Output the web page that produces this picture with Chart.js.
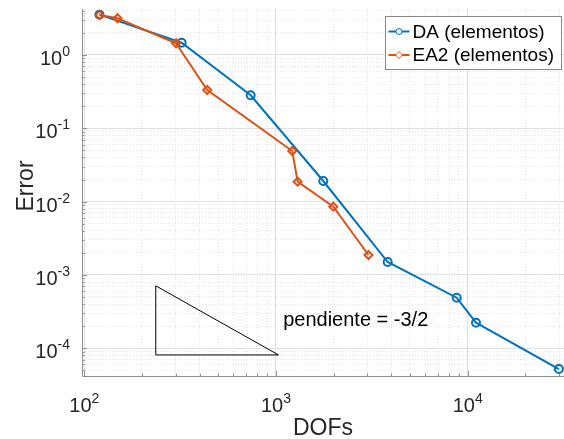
<!DOCTYPE html>
<html>
<head>
<meta charset="utf-8">
<script src="https://cdn.jsdelivr.net/npm/chart.js@4/dist/chart.umd.min.js"></script>
<style>
  html, body { margin: 0; padding: 0; background: #fff; }
  #wrap { width: 564px; height: 439px; }
</style>
</head>
<body>
<div id="wrap"><canvas id="chart" width="564" height="439"></canvas></div>
<script>
"use strict";

// values
const daDofs = [120, 322, 738, 1765, 3825, 8762, 11050, 29900];
const daError = [3.55, 1.47, 0.282, 0.0191, 0.0015, 4.89e-4, 2.23e-4, 5.2e-5];
const ea2Dofs = [120, 149, 301, 438, 1216, 1297, 1991, 3038];
const ea2Error = [3.51, 3.17, 1.445, 0.333, 0.049, 0.0187, 0.00852, 0.00187];
const triDofs = [236, 1030, 236, 236];
const triError = [7.1e-4, 8.1e-5, 8.1e-5, 7.1e-4];
const seriesLabels = ["DA (elementos)", "EA2 (elementos)"];
const xTitle = "DOFs";
const yTitle = "Error";
const slopeNote = "pendiente = -3/2";
const slopeNoteAt = [1090, 2.0e-4];
const xRange = [97.3, 31800];
const yRange = [4.18e-5, 4.24];

const FONT = '"Liberation Sans", Arial, Helvetica, sans-serif';
const COLORS = { da: "#0072BD", ea2: "#D95319", text: "#262626", axis: "#8f8f8f", major: "#e0e0e0", minor: "#e4e4e4" };

const pts = (xs, ys) => xs.map((x, i) => ({ x, y: ys[i] }));

function logTicks(min, max) {
  const out = [];
  for (let e = Math.floor(Math.log10(min)); e <= Math.ceil(Math.log10(max)); e++) {
    for (let k = 1; k <= 9; k++) {
      const v = k * Math.pow(10, e);
      if (v >= min && v <= max) out.push({ value: v, major: k === 1 });
    }
  }
  return out;
}

function drawPower(ctx, v, x, base, align) {
  const main = "10";
  const sup = String(Math.round(Math.log10(v)));
  ctx.font = `20px ${FONT}`;
  const mw = ctx.measureText(main).width;
  ctx.font = `14px ${FONT}`;
  const sw = ctx.measureText(sup).width;
  const left = align === "right" ? x - mw - sw : x - (mw + sw) / 2;
  ctx.textAlign = "left";
  ctx.textBaseline = "alphabetic";
  ctx.font = `20px ${FONT}`;
  ctx.fillText(main, left, base);
  ctx.font = `14px ${FONT}`;
  ctx.fillText(sup, left + mw, base - 9);
}

const matlabAxes = {
  id: "matlabAxes",
  beforeDatasetsDraw(chart) {
    const { ctx, chartArea: a, scales: { x, y } } = chart;
    ctx.save();
    ctx.strokeStyle = COLORS.axis;
    ctx.lineWidth = 1;
    ctx.beginPath();
    ctx.moveTo(a.left + 0.5, a.top);
    ctx.lineTo(a.left + 0.5, a.bottom + 0.5);
    ctx.lineTo(a.right, a.bottom + 0.5);
    for (const t of x.ticks) {
      const px = Math.round(x.getPixelForValue(t.value)) + 0.5;
      ctx.moveTo(px, a.bottom);
      ctx.lineTo(px, a.bottom - (t.major ? 5 : 2.5));
    }
    for (const t of y.ticks) {
      const py = Math.round(y.getPixelForValue(t.value)) + 0.5;
      ctx.moveTo(a.left, py);
      ctx.lineTo(a.left + (t.major ? 5 : 2.5), py);
    }
    ctx.stroke();
    ctx.restore();
  },
  afterDatasetsDraw(chart) {
    const { ctx, chartArea: a, scales: { x, y } } = chart;
    ctx.save();
    ctx.fillStyle = COLORS.text;
    x.ticks.filter(t => t.major).forEach(t => drawPower(ctx, t.value, x.getPixelForValue(t.value), a.bottom + 36, "center"));
    y.ticks.filter(t => t.major).forEach(t => drawPower(ctx, t.value, a.left - 12, y.getPixelForValue(t.value) + 10, "right"));

    // axis titles
    ctx.font = `23px ${FONT}`;
    ctx.textAlign = "center";
    ctx.textBaseline = "alphabetic";
    ctx.fillText(xTitle, (a.left + a.right) / 2, a.bottom + 59);
    ctx.save();
    ctx.translate(a.left - 49, 186);
    ctx.rotate(-Math.PI / 2);
    ctx.fillText(yTitle, 0, 0);
    ctx.restore();

    // slope note
    ctx.fillStyle = "#000";
    ctx.font = `20px ${FONT}`;
    ctx.textAlign = "left";
    ctx.fillText(slopeNote, x.getPixelForValue(slopeNoteAt[0]), y.getPixelForValue(slopeNoteAt[1]));

    // legend box
    const bx = 385.5, by = 16.5, bw = 176, bh = 53;
    ctx.fillStyle = "#fff";
    ctx.fillRect(bx, by, bw, bh);
    ctx.strokeStyle = "#888";
    ctx.lineWidth = 1;
    ctx.strokeRect(bx, by, bw, bh);
    chart.data.datasets.slice(0, 2).forEach((ds, i) => {
      const ry = by + 15 + i * 23.5;
      ctx.strokeStyle = ds.borderColor;
      ctx.lineWidth = 2;
      ctx.beginPath();
      ctx.moveTo(bx + 3, ry);
      ctx.lineTo(bx + 24, ry);
      ctx.stroke();
      ctx.lineWidth = 1;
      ctx.fillStyle = "#fff";
      ctx.beginPath();
      if (ds.pointStyle === "circle") {
        ctx.arc(bx + 13.5, ry, 3, 0, Math.PI * 2);
      } else {
        ctx.moveTo(bx + 13.5, ry - 3.5);
        ctx.lineTo(bx + 17, ry);
        ctx.lineTo(bx + 13.5, ry + 3.5);
        ctx.lineTo(bx + 10, ry);
        ctx.closePath();
      }
      ctx.fill();
      ctx.stroke();
      ctx.fillStyle = "#000";
      ctx.font = `19px ${FONT}`;
      ctx.textBaseline = "middle";
      ctx.fillText(ds.label, bx + 27, ry + 1);
    });
    ctx.restore();
  },
};

const gridAxis = (range, horizontal) => ({
  type: "logarithmic",
  min: range[0],
  max: range[1],
  afterBuildTicks: (s) => { s.ticks = logTicks(s.min, s.max); },
  afterFit: (s) => { if (horizontal) s.height = 0; else s.width = 0; },
  ticks: { display: false, autoSkip: false },
  grid: {
    drawTicks: false,
    lineWidth: 1,
    color: (c) => (c.tick && c.tick.major ? COLORS.major : COLORS.minor),
  },
  border: { display: false, dash: (c) => (c.tick && !c.tick.major ? [1, 2] : []) },
  title: { display: false },
});

new Chart(document.getElementById("chart"), {
  type: "line",
  data: {
    datasets: [
      {
        label: seriesLabels[0], data: pts(daDofs, daError), order: 2,
        borderColor: COLORS.da, borderWidth: 2, pointStyle: "circle", pointRadius: 4,
        pointBorderWidth: 2, pointBackgroundColor: "rgba(0,0,0,0)", pointBorderColor: COLORS.da, clip: false,
      },
      {
        label: seriesLabels[1], data: pts(ea2Dofs, ea2Error), order: 1,
        borderColor: COLORS.ea2, borderWidth: 2, pointStyle: "rectRot", pointRadius: 4,
        pointBorderWidth: 2, pointBackgroundColor: "rgba(0,0,0,0)", pointBorderColor: COLORS.ea2, clip: false,
      },
      {
        label: "triangle", data: pts(triDofs, triError), order: 3,
        borderColor: "#000", borderWidth: 1, pointRadius: 0, clip: false,
      },
    ],
  },
  options: {
    responsive: false,
    devicePixelRatio: 1,
    animation: false,
    layout: { autoPadding: false, padding: { left: 82, top: 9, right: 0, bottom: 63 } },
    scales: { x: gridAxis(xRange, true), y: gridAxis(yRange, false) },
    plugins: { legend: { display: false }, tooltip: { enabled: false } },
  },
  plugins: [matlabAxes],
});
</script>
</body>
</html>
